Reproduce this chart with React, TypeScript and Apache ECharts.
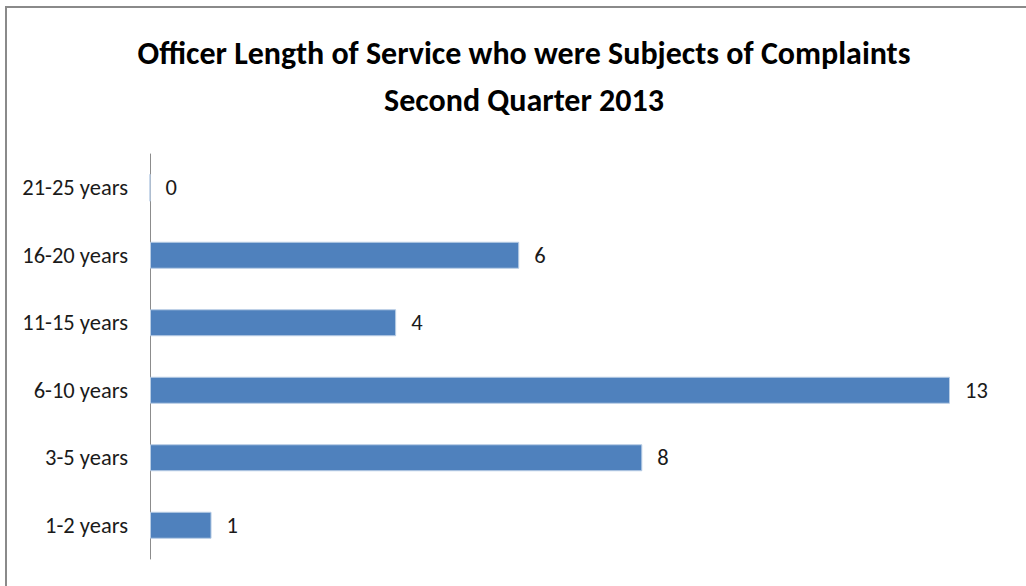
import React, { useEffect, useRef } from "react";
import * as echarts from "echarts";

// Length-of-service bands, bottom to top as drawn on the category axis
const categories = ["1-2 years", "3-5 years", "6-10 years", "11-15 years", "16-20 years", "21-25 years"];
const counts = [1, 8, 13, 4, 6, 0];

const titleLines = ["Officer Length of Service who were Subjects of Complaints", "Second Quarter 2013"];

const FONT = "Carlito, Lato, 'Open Sans', sans-serif";

export default function App() {
  const ref = useRef<HTMLDivElement>(null);

  useEffect(() => {
    if (!ref.current) return;
    const chart = echarts.init(ref.current, null, { renderer: "svg" });
    chart.setOption({
      animation: false,
      backgroundColor: "#ffffff",
      title: {
        text: titleLines.join("\n"),
        left: 519,
        textAlign: "center",
        top: 25,
        textStyle: {
          fontFamily: FONT,
          fontSize: 32,
          fontWeight: "bold",
          color: "#000000",
          lineHeight: 47,
        },
      },
      graphic: [
        {
          type: "rect",
          shape: { x: 6, y: 7, width: 1040, height: 620 },
          style: { fill: "none", stroke: "#8a8a8a", lineWidth: 2 },
          silent: true,
        },
      ],
      grid: { left: 150, right: 76, top: 154, bottom: 27, containLabel: false },
      xAxis: {
        type: "value",
        min: 0,
        max: 13,
        show: false,
      },
      yAxis: {
        type: "category",
        data: categories,
        axisLine: { show: true, lineStyle: { color: "#8c8c8c", width: 1 } },
        axisTick: { show: false },
        axisLabel: {
          fontFamily: FONT,
          fontSize: 22.5,
          color: "#1a1a1a",
          margin: 22,
        },
      },
      series: [
        {
          type: "bar",
          data: counts,
          barWidth: "40%",
          itemStyle: { color: "#4f81bd", borderColor: "#b9cde5", borderWidth: 1 },
          label: {
            show: true,
            position: "right",
            distance: 15,
            fontFamily: FONT,
            fontSize: 22.5,
            color: "#1a1a1a",
          },
        },
      ],
    });
    return () => chart.dispose();
  }, []);

  return (
    <div
      ref={ref}
      style={{ position: "fixed", left: 0, top: 0, width: 1026, height: 586 }}
    />
  );
}
